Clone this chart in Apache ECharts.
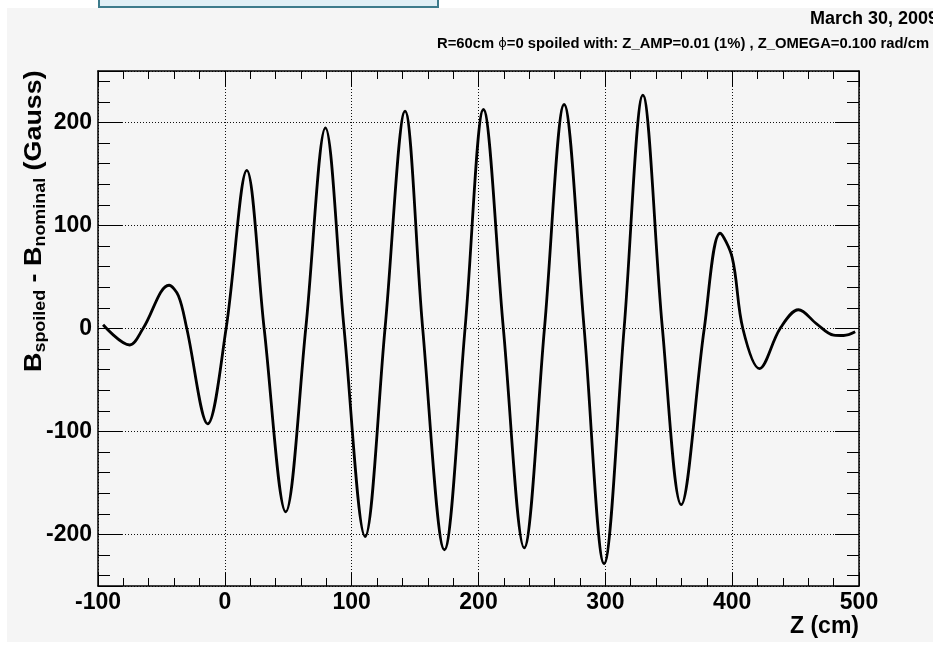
<!DOCTYPE html>
<html>
<head>
<meta charset="utf-8">
<script src="https://cdn.jsdelivr.net/npm/echarts@6/dist/echarts.min.js"></script>
<style>
html,body{margin:0;padding:0;background:#fff;}
#main{width:933px;height:646px;}
</style>
</head>
<body>
<div id="main"></div>
<script>
// Data
const zValues = [-96, -75, -64.5, -44, -36.6, -30, -13.5, 1, 17.3, 31, 48, 63.8, 79.3, 94, 110.6, 126.3, 142.1, 156, 173.1, 189.4, 203.9, 219.6, 236, 252, 267.5, 283.3, 299, 314.8, 329.6, 345, 359.8, 378, 390.5, 400, 408.4, 421.5, 437.8, 452.3, 466.8, 480, 488, 497];
const bValues = [3.6, -16, 0, 42, 31.8, 0, -92.5, 0, 153.5, 0, -178, 0, 194.7, 0, -202, 0, 211, 0, -214.8, 0, 212.6, 0, -213, 0, 217.5, 0, -228.4, 0, 226.6, 0, -171, 0, 92.5, 69, 0, -39, 0, 18.2, 4.3, -6.4, -6.8, -3.2];
const xTickLabels = ['-100', '0', '100', '200', '300', '400', '500'];
const yTickLabels = ['-200', '-100', '0', '100', '200'];

const FONT = 'Liberation Sans, Arial, Helvetica, sans-serif';
const points = zValues.map((z, i) => [z, bValues[i]]);

const chart = echarts.init(document.getElementById('main'), null, {renderer: 'canvas'});

chart.setOption({
  animation: false,
  backgroundColor: '#ffffff',
  graphic: [
    {type: 'rect', z: -100, shape: {x: 7, y: 8, width: 926, height: 634}, style: {fill: '#f5f5f5'}},
    {type: 'rect', z: 10, shape: {x: 99, y: -3, width: 339, height: 10}, style: {fill: '#e0eff5', stroke: '#3d7b8b', lineWidth: 2}},
    {type: 'text', z: 10, x: 810, y: 10, style: {text: 'March 30, 2009', font: 'bold 18px ' + FONT, fill: '#000'}},
    {type: 'text', z: 10, x: 437, y: 36, style: {
      text: '{a|R=60cm }{p|ϕ}{a|=0 spoiled with: Z_AMP=0.01 (1%) , Z_OMEGA=0.100 rad/cm}',
      rich: {
        a: {font: 'bold 14.8px ' + FONT, fill: '#000'},
        p: {font: '13px DejaVu Sans, sans-serif', fill: '#000'}
      }
    }},
    {type: 'text', z: 10, x: 859, y: 615, style: {text: 'Z (cm)', font: 'bold 23px ' + FONT, fill: '#000', align: 'right'}},
    {type: 'text', z: 10, x: 34, y: 372, rotation: Math.PI / 2, scaleX: 1.12, scaleY: 1, style: {
      text: '{b|B}{s|spoiled}{b| - B}{s|nominal}{b| (Gauss)}',
      align: 'left', verticalAlign: 'middle',
      rich: {
        b: {fontFamily: FONT, fontWeight: 'bold', fontSize: 24, lineHeight: 30, fill: '#000'},
        s: {fontFamily: FONT, fontWeight: 'bold', fontSize: 16, lineHeight: 14, verticalAlign: 'bottom', fill: '#000'}
      }
    }}
  ],
  grid: {left: 98, top: 71, width: 761, height: 515, show: false},
  xAxis: [
    {
      type: 'value', position: 'bottom', min: -100, max: 500, interval: 100,
      axisLine: {show: true, onZero: false, lineStyle: {color: '#000', width: 1.5}},
      axisTick: {show: true, inside: true, length: 13, lineStyle: {color: '#000', width: 1}},
      minorTick: {show: true, splitNumber: 5, length: 8, lineStyle: {color: '#000', width: 1}},
      axisLabel: {
        show: true, margin: 5, color: '#000', fontFamily: FONT, fontWeight: 'bold', fontSize: 23,
        formatter: v => xTickLabels.includes(String(v)) ? String(v) : ''
      },
      splitLine: {show: true, lineStyle: {color: '#111', width: 1, type: [1, 2]}},
      minorSplitLine: {show: false}
    },
    {
      type: 'value', position: 'top', min: -100, max: 500, interval: 100,
      axisLine: {show: true, onZero: false, lineStyle: {color: '#000', width: 1.5}},
      axisTick: {show: true, inside: true, length: 16, lineStyle: {color: '#000', width: 1}},
      minorTick: {show: true, splitNumber: 5, length: 8, lineStyle: {color: '#000', width: 1}},
      axisLabel: {show: false},
      splitLine: {show: false}
    }
  ],
  yAxis: [
    {
      type: 'value', position: 'left', min: -250, max: 250, splitNumber: 5,
      axisLine: {show: true, onZero: false, lineStyle: {color: '#000', width: 1.5}},
      axisTick: {show: true, inside: true, length: 24, lineStyle: {color: '#000', width: 1}},
      minorTick: {show: true, splitNumber: 5, length: 12, lineStyle: {color: '#000', width: 1}},
      axisLabel: {
        show: true, margin: 6, color: '#000', fontFamily: FONT, fontWeight: 'bold', fontSize: 23,
        formatter: v => yTickLabels.includes(String(v)) ? String(v) : ''
      },
      splitLine: {show: true, lineStyle: {color: '#111', width: 1, type: [1, 2]}}
    },
    {
      type: 'value', position: 'right', min: -250, max: 250, splitNumber: 5,
      axisLine: {show: true, onZero: false, lineStyle: {color: '#000', width: 1.5}},
      axisTick: {show: true, inside: true, length: 24, lineStyle: {color: '#000', width: 1}},
      minorTick: {show: true, splitNumber: 5, length: 12, lineStyle: {color: '#000', width: 1}},
      axisLabel: {show: false},
      splitLine: {show: false}
    }
  ],
  series: [{
    type: 'line',
    xAxisIndex: 0, yAxisIndex: 0,
    data: points,
    showSymbol: false,
    smooth: 0.35,
    lineStyle: {color: '#000', width: 2.8},
    z: 5
  }]
});
</script>
</body>
</html>
